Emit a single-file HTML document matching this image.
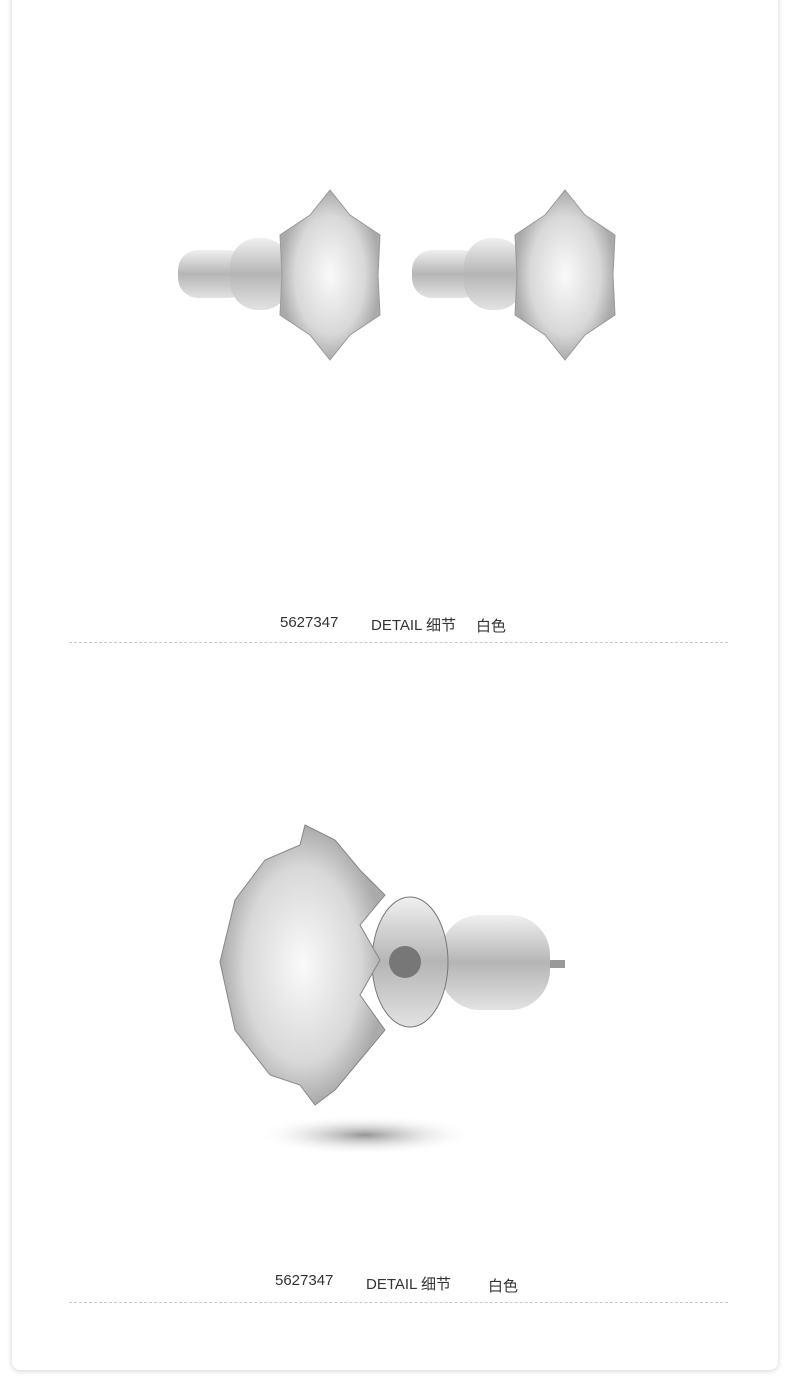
<!DOCTYPE html>
<html><head><meta charset="utf-8"><style>
html,body{margin:0;padding:0;background:#fff;width:790px;height:1398px;overflow:hidden;}
.card{position:absolute;left:12px;top:-10px;width:766px;height:1380px;background:#fff;border-radius:8px;box-shadow:0 1px 6px rgba(0,0,0,0.18);}
.t{position:absolute;font-family:"Liberation Sans","Noto Sans CJK SC",sans-serif;font-size:15px;color:#333;}
.line{position:absolute;left:69px;width:659px;border-top:1px dashed #c8c8c8;}
</style></head><body>
<div class="card"></div>
<svg style="position:absolute;left:0;top:0" width="790" height="1398">
<defs>
<radialGradient id="g1"><stop offset="0" stop-color="#fafafa"/><stop offset="0.7" stop-color="#d8d8d8"/><stop offset="1" stop-color="#aaa"/></radialGradient>
<linearGradient id="m" x1="0" y1="0" x2="0" y2="1"><stop offset="0" stop-color="#f0f0f0"/><stop offset="0.5" stop-color="#b5b5b5"/><stop offset="1" stop-color="#e2e2e2"/></linearGradient>
<radialGradient id="sh"><stop offset="0" stop-color="#888" stop-opacity="0.9"/><stop offset="1" stop-color="#fff" stop-opacity="0"/></radialGradient>
</defs>
<g>
<rect x="178" y="250" width="70" height="48" rx="20" fill="url(#m)"/>
<rect x="230" y="238" width="60" height="72" rx="28" fill="url(#m)"/>
<polygon points="330,190 350,215 380,235 378,275 380,315 350,335 330,360 310,335 280,315 282,275 280,235 310,215" fill="url(#g1)" stroke="#999"/>
<rect x="412" y="250" width="70" height="48" rx="20" fill="url(#m)"/>
<rect x="464" y="238" width="60" height="72" rx="28" fill="url(#m)"/>
<polygon points="565,190 585,215 615,235 613,275 615,315 585,335 565,360 545,335 515,315 517,275 515,235 545,215" fill="url(#g1)" stroke="#999"/>
</g>
<ellipse cx="365" cy="1135" rx="110" ry="20" fill="url(#sh)"/>
<rect x="370" y="960" width="195" height="8" fill="#999"/>
<rect x="440" y="915" width="110" height="95" rx="40" fill="url(#m)"/>
<ellipse cx="410" cy="962" rx="38" ry="65" fill="url(#m)" stroke="#777"/>
<circle cx="405" cy="962" r="16" fill="#777"/>
<polygon points="305,825 335,840 360,870 385,895 360,925 380,960 360,995 385,1030 360,1060 335,1090 315,1105 300,1085 270,1075 235,1030 220,962 235,900 265,860 300,845" fill="url(#g1)" stroke="#888"/>
</svg>
<div class="t" style="left:280px;top:614px">5627347</div>
<div class="t" style="left:371px;top:614px">DETAIL 细节</div>
<div class="t" style="left:476px;top:615px">白色</div>
<div class="line" style="top:642px"></div>
<div class="t" style="left:275px;top:1272px">5627347</div>
<div class="t" style="left:366px;top:1273px">DETAIL 细节</div>
<div class="t" style="left:488px;top:1275px">白色</div>
<div class="line" style="top:1302px"></div>
</body></html>
